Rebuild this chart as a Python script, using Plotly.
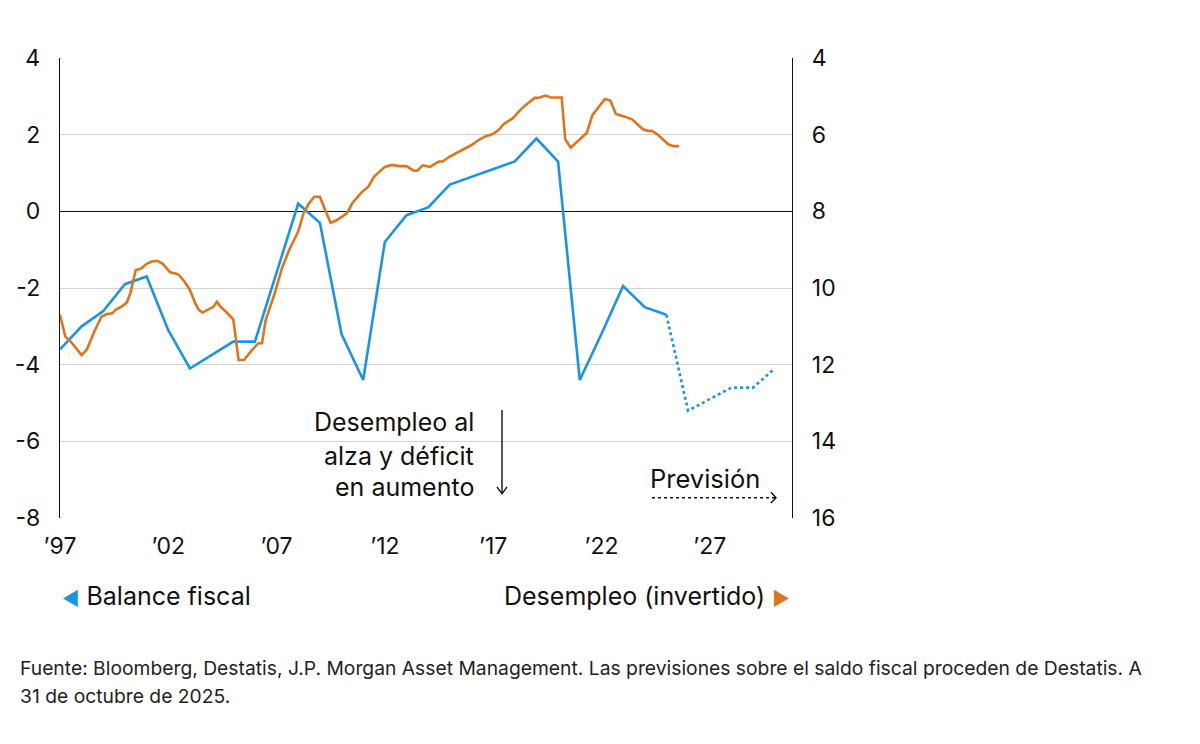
import plotly.graph_objects as go

# ---------------- DATA ----------------
fiscal_years = ["1997-01-01", "1998-01-01", "1999-01-01", "2000-01-01", "2001-01-01",
                "2002-01-01", "2003-01-01", "2004-01-01", "2005-01-01", "2006-01-01",
                "2007-01-01", "2008-01-01", "2009-01-01", "2010-01-01", "2011-01-01",
                "2012-01-01", "2013-01-01", "2014-01-01", "2015-01-01", "2016-01-01",
                "2017-01-01", "2018-01-01", "2019-01-01", "2020-01-01", "2021-01-01",
                "2022-01-01", "2023-01-01", "2024-01-01", "2025-01-01"]
fiscal_balance = [-3.6, -3.0, -2.6, -1.9, -1.7,
                  -3.1, -4.1, -3.75, -3.4, -3.4,
                  -1.6, 0.2, -0.3, -3.2, -4.4,
                  -0.8, -0.1, 0.1, 0.7, 0.9,
                  1.1, 1.3, 1.9, 1.3, -4.4,
                  -3.2, -1.95, -2.5, -2.7]

forecast_years = ["2025-01-01", "2026-01-01", "2027-01-01", "2028-01-01", "2029-01-01", "2030-01-01"]
forecast_balance = [-2.7, -5.2, -4.9, -4.6, -4.6, -4.1]

unemp_dates = ["1997-01-01", "1997-04-01", "1997-07-01", "1997-10-01", "1998-01-01", "1998-04-01",
               "1998-08-01", "1998-12-01", "1999-03-01", "1999-06-01", "1999-08-01", "1999-11-01",
               "2000-02-01", "2000-04-01", "2000-07-01", "2000-10-01", "2001-01-01", "2001-04-01",
               "2001-07-01", "2001-10-01", "2002-02-01", "2002-05-01", "2002-07-01", "2002-10-01",
               "2003-01-01", "2003-04-01", "2003-06-01", "2003-08-01", "2003-11-01", "2004-02-01",
               "2004-04-01", "2004-06-01", "2004-09-01", "2005-01-01", "2005-04-01", "2005-07-01",
               "2005-11-01", "2006-03-01", "2006-05-01", "2006-07-01", "2006-12-01", "2007-04-01",
               "2007-08-01", "2008-01-01", "2008-04-01", "2008-07-01", "2008-10-01", "2009-01-01",
               "2009-04-01", "2009-07-01", "2009-10-01", "2010-04-01", "2010-07-01", "2010-12-01",
               "2011-04-01", "2011-07-01", "2012-01-01", "2012-05-01", "2012-09-01", "2013-01-01",
               "2013-05-01", "2013-07-01", "2013-10-01", "2014-02-01", "2014-07-01", "2014-09-01",
               "2015-01-01", "2015-05-01", "2015-10-01", "2016-01-01", "2016-05-01", "2016-09-01",
               "2017-01-01", "2017-04-01", "2017-07-01", "2017-12-01", "2018-04-01", "2018-07-01",
               "2018-12-01", "2019-03-01", "2019-06-01", "2019-09-01", "2020-03-01", "2020-05-01",
               "2020-08-01", "2021-01-01", "2021-05-01", "2021-08-01", "2021-12-01", "2022-03-01",
               "2022-06-01", "2022-09-01", "2023-02-01", "2023-06-01", "2023-12-01", "2024-03-01",
               "2024-05-01", "2024-08-01", "2025-02-01", "2025-05-01", "2025-08-01"]
unemployment = [10.70, 11.27, 11.40, 11.57, 11.75, 11.60,
                11.14, 10.75, 10.68, 10.66, 10.56, 10.49,
                10.38, 10.14, 9.53, 9.49, 9.37, 9.31,
                9.29, 9.37, 9.59, 9.62, 9.66, 9.83,
                10.05, 10.40, 10.57, 10.64, 10.56, 10.49,
                10.36, 10.49, 10.62, 10.82, 11.88, 11.88,
                11.64, 11.44, 11.44, 10.84, 10.14, 9.49,
                9.01, 8.53, 8.05, 7.79, 7.62, 7.62,
                7.97, 8.30, 8.24, 8.05, 7.79, 7.51,
                7.35, 7.10, 6.84, 6.79, 6.82, 6.82,
                6.94, 6.94, 6.80, 6.84, 6.70, 6.70,
                6.57, 6.47, 6.33, 6.27, 6.14, 6.04,
                5.98, 5.88, 5.72, 5.57, 5.36, 5.23,
                5.04, 5.03, 4.98, 5.03, 5.03, 6.12,
                6.34, 6.11, 5.95, 5.49, 5.25, 5.07,
                5.11, 5.46, 5.53, 5.60, 5.86, 5.90,
                5.90, 5.99, 6.25, 6.30, 6.30]

x_tickvals = ["1997-01-01", "2002-01-01", "2007-01-01", "2012-01-01", "2017-01-01", "2022-01-01", "2027-01-01"]
x_ticktext = ["\u201997", "\u201902", "\u201907", "\u201912", "\u201917", "\u201922", "\u201927"]
left_ticks = [-8, -6, -4, -2, 0, 2, 4]
left_ticktext = ["-8", "-6", "-4", "-2", "0", "2", "4"]
right_ticks = [16, 14, 12, 10, 8, 6, 4]

BLUE = "#1a94e6"
ORANGE = "#e0741a"
TXT = "#111111"
FONT = "Inter"

fig = go.Figure()
fig.add_trace(go.Scatter(x=fiscal_years, y=fiscal_balance, mode="lines",
                         line=dict(color=BLUE, width=2.6), yaxis="y", showlegend=False))
fig.add_trace(go.Scatter(x=forecast_years, y=forecast_balance, mode="lines",
                         line=dict(color=BLUE, width=2.6, dash="dot"), yaxis="y", showlegend=False))
fig.add_trace(go.Scatter(x=unemp_dates, y=unemployment, mode="lines",
                         line=dict(color=ORANGE, width=2.6), yaxis="y2", showlegend=False))

fig.update_layout(
    width=1192, height=736,
    margin=dict(l=52, r=408, t=50, b=226, autoexpand=False),
    paper_bgcolor="white", plot_bgcolor="white",
    font=dict(family=FONT, size=23, color=TXT),
    xaxis=dict(type="date", range=["1997-01-01", "2030-10-20"],
               tickvals=x_tickvals, ticktext=x_ticktext, automargin=False,
               showgrid=False, zeroline=False, showline=False,
               ticks="", ticklabelstandoff=12,
               tickfont=dict(size=23, color=TXT)),
    yaxis=dict(range=[-8, 4], tickvals=left_ticks, ticktext=left_ticktext, automargin=False,
               showgrid=True, gridcolor="#d2d2d2", gridwidth=1.2,
               zeroline=True, zerolinecolor="#111111", zerolinewidth=1.4,
               showline=True, linecolor="#111111", linewidth=1.4,
               ticks="", ticklabelstandoff=14,
               tickfont=dict(size=23, color=TXT)),
    yaxis2=dict(range=[16, 4], tickvals=right_ticks, overlaying="y", side="right", automargin=False,
                showgrid=False, zeroline=False,
                showline=True, linecolor="#111111", linewidth=1.4,
                ticks="", ticklabelstandoff=14,
                tickfont=dict(size=23, color=TXT)),
)

annotations = [
    dict(xref="paper", yref="paper", x=0.0, y=-0.17, xanchor="left", yanchor="middle",
         text=f"<span style='color:{BLUE};font-size:19px'>◀</span> Balance fiscal",
         showarrow=False, font=dict(size=25, color=TXT)),
    dict(xref="paper", yref="paper", x=1.0, y=-0.17, xanchor="right", yanchor="middle",
         text=f"Desempleo (invertido) <span style='color:{ORANGE};font-size:19px'>▶</span>",
         showarrow=False, font=dict(size=25, color=TXT)),
    dict(xref="paper", yref="y", x=0.568, y=-5.5, xanchor="right", yanchor="middle",
         text="Desempleo al", showarrow=False, font=dict(size=25, color=TXT)),
    dict(xref="paper", yref="y", x=0.568, y=-6.37, xanchor="right", yanchor="middle",
         text="alza y déficit", showarrow=False, font=dict(size=25, color=TXT)),
    dict(xref="paper", yref="y", x=0.568, y=-7.2, xanchor="right", yanchor="middle",
         text="en aumento", showarrow=False, font=dict(size=25, color=TXT)),
    dict(xref="paper", yref="y", x=(648 - 60) / 732, y=-6.98, xanchor="left", yanchor="middle",
         text="Previsión", showarrow=False, font=dict(size=25.5, color=TXT)),
    dict(xref="paper", yref="paper", x=-0.0574, y=-0.325, xanchor="left", yanchor="middle",
         text="Fuente: Bloomberg, Destatis, J.P. Morgan Asset Management. Las previsiones sobre el saldo fiscal proceden de Destatis. A",
         showarrow=False, font=dict(size=19.3, color="#222222")),
    dict(xref="paper", yref="paper", x=-0.0574, y=-0.386, xanchor="left", yanchor="middle",
         text="31 de octubre de 2025.",
         showarrow=False, font=dict(size=19.3, color="#222222")),
]
fig.update_layout(annotations=annotations)

# arrow shapes (annotation decorations)
ax_x = (502 - 60) / 732
chev = 5 / 732
shapes = [
    dict(type="line", xref="paper", yref="y", x0=ax_x, x1=ax_x, y0=-5.18, y1=-7.37,
         line=dict(color=TXT, width=1.4)),
    dict(type="path", xref="paper", yref="y",
         path=f"M {ax_x - chev} -7.19 L {ax_x} -7.37 L {ax_x + chev} -7.19",
         line=dict(color=TXT, width=1.4)),
    dict(type="line", xref="paper", yref="y", x0=(652 - 60) / 732, x1=(775 - 60) / 732,
         y0=-7.47, y1=-7.47, line=dict(color=TXT, width=1.6, dash="dot")),
    dict(type="path", xref="paper", yref="y",
         path=f"M {(771 - 60) / 732} -7.33 L {(776 - 60) / 732} -7.47 L {(771 - 60) / 732} -7.61",
         line=dict(color=TXT, width=1.4)),
]
fig.update_layout(shapes=shapes)

fig.write_html("out.html")
